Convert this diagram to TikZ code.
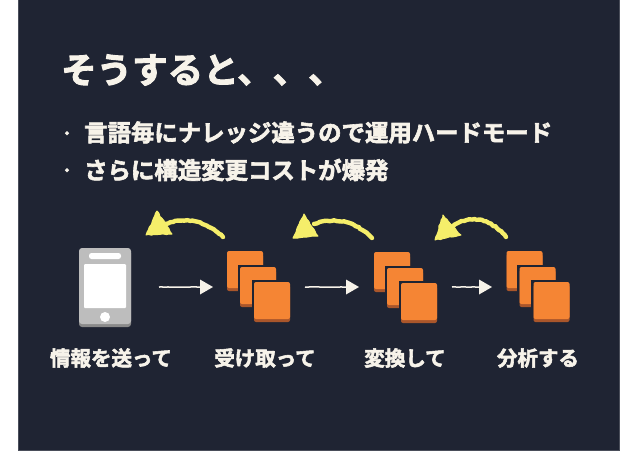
\documentclass[tikz,border=0pt]{standalone}
\usepackage{fontspec}
\newfontfamily\jp[FakeBold=2.6]{Noto Sans CJK JP Bold}
\usetikzlibrary{decorations.pathmorphing}
\definecolor{slidebg}{HTML}{1F2433}
\definecolor{slideedge}{HTML}{4A4E5A}
\definecolor{chalkw}{HTML}{F7F3EA}
\definecolor{chalky}{HTML}{F5EE6A}
\definecolor{orangeA}{HTML}{F58534}
\definecolor{orangeB}{HTML}{A9562B}
\definecolor{phoneG}{HTML}{BDBDBD}
\definecolor{phoneD}{HTML}{8A8A8A}
\tikzset{
 x=1pt,y=-1pt,
 title/.style={font=\jp\fontsize{35.5}{39}\selectfont,text=chalkw,anchor=west,inner sep=0},
 bullet/.style={font=\jp\fontsize{23.4}{27}\selectfont,text=chalkw,anchor=west,inner sep=0},
 dotmark/.style={font=\jp\fontsize{14}{16}\selectfont,text=chalkw,anchor=center,inner sep=0},
 caption/.style={font=\jp\fontsize{20.5}{24}\selectfont,text=chalkw,anchor=center,inner sep=0},
 flow/.style={draw=chalkw,line width=1.5pt,decorate,decoration={random steps,segment length=3pt,amplitude=.25pt}},
 headw/.style={fill=chalkw,draw=none},
 yarc/.style={draw=chalky,line width=4.4pt,line cap=round,decorate,decoration={random steps,segment length=2.5pt,amplitude=.5pt}},
 heady/.style={fill=chalky,draw=chalky,line width=1pt,line join=round,decorate,decoration={random steps,segment length=3pt,amplitude=.6pt}},
}
\newcommand{\stack}[3]{%
 \foreach \dx/\dy/\w/\h in {0/0/36/40,13/16/36/40,27/31/36/40}{
  \fill[slidebg] (#1+\dx-2.5,#2+\dy-2.5) rectangle (#1+\dx+\w+1,#2+\dy+\h+2);
  \fill[orangeB,rounded corners=2pt] (#1+\dx,#2+\dy+3) rectangle (#1+\dx+\w,#2+\dy+\h);
  \fill[orangeA,rounded corners=2pt] (#1+\dx,#2+\dy) rectangle (#1+\dx+\w,#2+\dy+\h-3);
 }
}
\begin{document}
\begin{tikzpicture}
\useasboundingbox (0,0) rectangle (638,451);
\fill[white] (0,0) rectangle (638,451);
\fill[slideedge] (18,0) rectangle (620,451);
\fill[slidebg] (19,0) rectangle (619,450);
\node[title] (t) at (61,70) {そうすると、、、};
\node[dotmark] (b0) at (67,135) {・};
\node[bullet] (b1) at (84,132.5) {言語毎にナレッジ違うので運用ハードモード};
\node[dotmark] (b2) at (67,172) {・};
\node[bullet] (b3) at (84,170) {さらに構造変更コストが爆発};
% phone
\fill[phoneD,rounded corners=3pt] (79,250) rectangle (131,327);
\fill[phoneG,rounded corners=3pt] (79,248) rectangle (131,324);
\fill[white,rounded corners=2.5pt] (89,253) rectangle (121,259);
\fill[white,rounded corners=1pt] (84,264) rectangle (126,308);
\fill[white] (105,317) circle (5);
% stacks
\stack{227}{251}{s1}
\stack{374}{252}{s2}
\stack{506.5}{251}{s3}
% flow arrows
\coordinate (a1s) at (159,287); \coordinate (a1e) at (200,287);
\coordinate (a2s) at (305,287); \coordinate (a2e) at (346,287);
\coordinate (a3s) at (452,287); \coordinate (a3e) at (479,287);
\foreach \s/\e in {a1s/a1e,a2s/a2e,a3s/a3e}{
 \draw[flow] (\s) -- (\e);
 \fill[headw] (\e) ++(0,-7.5) -- ++(13,7.5) -- ++(-13,7.5) -- cycle;
}
% yellow arrows
\draw[yarc] (223,237) .. controls (207,222) and (188,216) .. (165,224);
\draw[heady] (146,235) -- (157,211) -- (172,234) -- cycle;
\draw[yarc] (372,238) .. controls (357,223) and (338,216) .. (314,224);
\draw[heady] (293,238) -- (304,214) -- (318,236) -- cycle;
\draw[yarc] (506,237) .. controls (493,222) and (475,212) .. (453,226);
\draw[heady] (435,240) -- (443,215) -- (461,235) -- cycle;
% captions
\node[caption] (c1) at (111,358) {情報を送って};
\node[caption] (c2) at (265,358) {受け取って};
\node[caption] (c3) at (405,358) {変換して};
\node[caption] (c4) at (538,358) {分析する};
\end{tikzpicture}
\end{document}
